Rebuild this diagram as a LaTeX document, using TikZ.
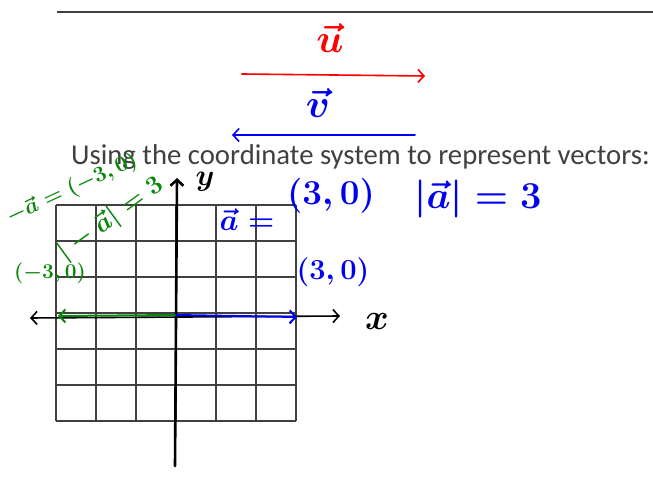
\RequirePackage{fix-cm}
\documentclass[tikz,border=0pt]{standalone}
\usepackage{fontspec}
\usepackage{amsmath}
\usetikzlibrary{arrows.meta}
\newfontfamily\slidefont{Carlito}
\newcommand\inksize[1]{\fontsize{#1}{#1}\selectfont\boldmath}
\definecolor{inkred}{RGB}{255,0,0}
\definecolor{inkblue}{RGB}{0,0,240}
\definecolor{inkgreen}{RGB}{10,135,10}
\definecolor{slidegray}{RGB}{64,64,64}

\begin{document}
\begin{tikzpicture}[x=1pt,y=-1pt,
  pen/.style={line width=1.6pt,line cap=round},
  barb/.style={-{Straight Barb[length=6pt,width=13pt]}},
  gridline/.style={slidegray,line width=1.3pt},
  ink/.style={inner sep=0pt}]
  \useasboundingbox (0,0) rectangle (653,481);
  \draw[slidegray,line width=2pt] (57,12) -- (653,12);
  % vectors u and v
  \coordinate (ustart) at (242,74); \coordinate (uend) at (425,76);
  \draw[inkred,pen,barb] (ustart) -- (uend);
  \node[inkred,ink,font=\inksize{40}] (ulab) at (330,38) {$\vec{u}$};
  \coordinate (vstart) at (415,135); \coordinate (vend) at (232,135);
  \draw[inkblue,pen,barb] (vstart) -- (vend);
  \node[inkblue,ink,font=\inksize{40}] (vlab) at (318,103) {$\vec{v}$};
  \node[anchor=base west,inner sep=0pt,text=slidegray,font=\slidefont\fontsize{28.7}{32}\selectfont]
    (title) at (71,165) {Using the coordinate system to represent vectors:};
  % grid
  \foreach \gx in {56,96,...,296} \draw[gridline] (\gx,205) -- (\gx,421);
  \foreach \gy in {205,241,...,421} \draw[gridline] (56,\gy) -- (296,\gy);
  % axes
  \coordinate (ybot) at (175,466); \coordinate (ytop) at (177,178);
  \draw[pen,line width=2.6pt,barb] (ybot) -- (ytop);
  \node[ink,font=\inksize{30}] (ylab) at (205,182) {$y$};
  \coordinate (xleft) at (30,318); \coordinate (xright) at (340,316);
  \draw[pen,{Straight Barb[length=6pt,width=13pt]}-{Straight Barb[length=6pt,width=13pt]}] (xleft) -- (xright);
  \node[ink,font=\inksize{36}] (xlab) at (377,321) {$x$};
  \coordinate (origin) at (176,315);
  \coordinate (aend) at (297,317); \coordinate (naend) at (58,316);
  \draw[inkgreen,pen,line width=2pt,barb] (origin) -- (naend);
  \draw[inkblue,pen,line width=2pt,barb] (origin) -- (aend);
  % labels
  \node[inkgreen,ink,font=\inksize{22},rotate=25] (naeq) at (72,189) {$-\vec{a}=(-3,0)$};
  \node[inkgreen,ink,font=\inksize{26},rotate=36] (nanorm) at (111,219) {$|-\vec{a}|=3$};
  \node[inkgreen,ink,font=\inksize{21}] (nacoord) at (50,273) {$(-3,0)$};
  \node[inkblue,ink,font=\inksize{30}] (aeq) at (247,220) {$\vec{a}=$};
  \node[inkblue,ink,font=\inksize{35}] (acoord) at (331,196) {$(3,0)$};
  \node[inkblue,ink,font=\inksize{29}] (acoord2) at (333,272) {$(3,0)$};
  \node[inkblue,ink,font=\inksize{38}] (anorm) at (478,199) {$|\vec{a}|=3$};
\end{tikzpicture}
\end{document}
